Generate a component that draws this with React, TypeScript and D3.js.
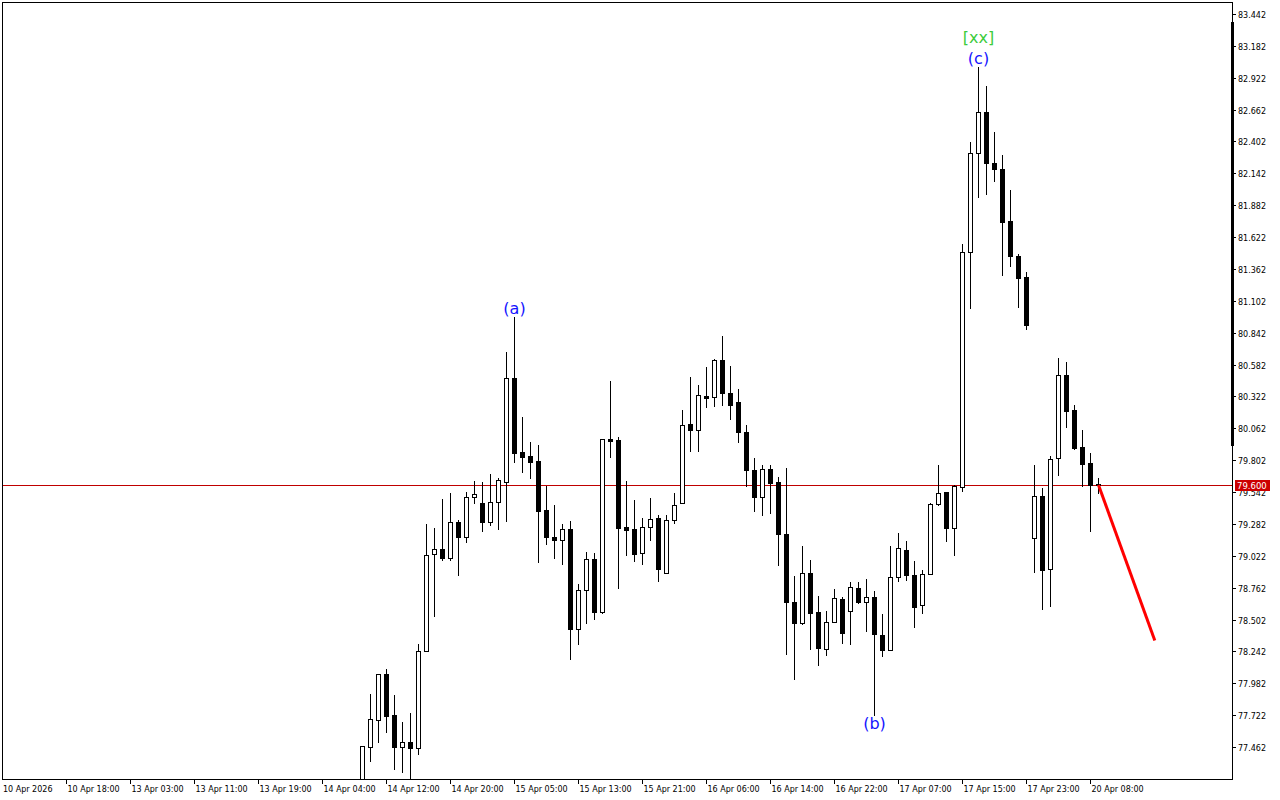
import React from "react";
import * as d3 from "d3";

// first visible bar index (bars are counted from the left edge of the chart)
const FIRST_BAR = 45;

const opens = [
  77.112, 77.460, 77.680, 78.056, 77.724, 77.460, 77.501, 77.452, 78.246, 79.034,
  79.077, 79.006, 79.295, 79.178, 79.499, 79.450, 79.295, 79.458, 79.627, 80.470,
  79.869, 79.836, 79.795, 79.393, 79.175, 79.148, 79.238, 78.423, 78.740, 78.993,
  78.567, 79.975, 79.964, 79.254, 79.238, 79.042, 79.254, 79.328, 78.879, 79.311,
  79.450, 80.095, 80.046, 80.324, 80.315, 80.617, 80.347, 80.277, 80.030, 79.719,
  79.499, 79.727, 79.622, 79.197, 78.643, 78.472, 78.879, 78.562, 78.260, 78.480,
  78.669, 78.570, 78.757, 78.643, 78.683, 78.374, 78.252, 78.846, 79.071, 78.864,
  78.617, 78.871, 79.445, 79.539, 79.245, 79.583, 81.502, 82.311, 82.645, 82.230,
  82.174, 81.753, 81.468, 81.299, 79.171, 79.506, 78.916, 79.816, 80.493, 80.208,
  79.910, 79.779, 79.607,
];
const highs = [
  77.471, 77.893, 78.056, 78.099, 77.887, 77.664, 77.740, 78.301, 79.279, 79.246,
  79.485, 79.534, 79.314, 79.542, 79.632, 79.622, 79.689, 79.660, 80.687, 80.968,
  80.157, 79.953, 79.926, 79.594, 79.436, 79.281, 79.306, 78.792, 79.053, 79.045,
  79.972, 80.448, 79.991, 79.632, 79.477, 79.330, 79.494, 79.352, 79.352, 79.534,
  80.211, 80.481, 80.416, 80.562, 80.628, 80.815, 80.568, 80.381, 80.089, 79.820,
  79.764, 79.762, 79.665, 79.742, 78.855, 79.099, 78.988, 78.694, 78.572, 78.751,
  78.683, 78.806, 78.806, 78.833, 78.732, 78.545, 79.099, 79.205, 79.146, 78.983,
  78.902, 79.453, 79.759, 79.539, 79.602, 81.565, 82.396, 83.012, 82.855, 82.477,
  82.290, 82.008, 81.481, 81.334, 79.761, 79.579, 79.832, 80.634, 80.599, 80.252,
  80.048, 79.861, 79.654,
];
const lows = [
  77.071, 77.348, 77.506, 77.587, 77.286, 77.256, 77.112, 77.403, 78.246, 78.534,
  78.990, 78.990, 78.868, 79.137, 79.455, 79.227, 79.276, 79.240, 79.308, 79.790,
  79.708, 79.654, 78.974, 79.121, 79.006, 78.957, 78.183, 78.306, 78.477, 78.509,
  78.559, 79.831, 78.762, 79.031, 78.982, 78.957, 79.153, 78.819, 78.879, 79.292,
  79.450, 79.880, 79.880, 80.238, 80.247, 80.255, 80.136, 79.950, 79.591, 79.390,
  79.352, 79.373, 78.944, 78.219, 78.015, 78.464, 78.260, 78.129, 78.211, 78.480,
  78.314, 78.301, 78.635, 78.411, 77.724, 78.203, 78.252, 78.819, 78.827, 78.442,
  78.557, 78.871, 79.439, 79.139, 79.027, 79.552, 81.040, 81.945, 81.977, 82.081,
  81.309, 81.390, 81.053, 80.871, 78.886, 78.591, 78.616, 79.684, 80.073, 79.893,
  79.591, 79.227, 79.534,
];
const closes = [
  77.471, 77.689, 78.056, 77.718, 77.460, 77.501, 77.452, 78.246, 79.026, 79.077,
  79.006, 79.295, 79.178, 79.499, 79.524, 79.295, 79.458, 79.638, 80.475, 79.862,
  79.831, 79.790, 79.391, 79.173, 79.153, 79.238, 78.423, 78.740, 78.993, 78.567,
  79.972, 79.961, 79.251, 79.235, 79.034, 79.254, 79.320, 78.912, 79.311, 79.434,
  80.087, 80.046, 80.332, 80.312, 80.617, 80.346, 80.255, 80.030, 79.719, 79.499,
  79.727, 79.618, 79.197, 78.643, 78.472, 78.879, 78.554, 78.268, 78.480, 78.677,
  78.390, 78.765, 78.643, 78.683, 78.382, 78.252, 78.846, 79.083, 78.864, 78.607,
  78.877, 79.445, 79.534, 79.245, 79.590, 81.502, 82.311, 82.645, 82.227, 82.174,
  81.746, 81.465, 81.290, 80.903, 79.506, 78.907, 79.809, 80.493, 80.206, 79.899,
  79.773, 79.598, 79.600,
];

const priceTickLabels = [
  "83.442", "83.182", "82.922", "82.662", "82.402", "82.142", "81.882", "81.622",
  "81.362", "81.102", "80.842", "80.582", "80.322", "80.062", "79.802", "79.542",
  "79.282", "79.022", "78.762", "78.502", "78.242", "77.982", "77.722", "77.462",
];

const timeLabels = [
  "10 Apr 2026", "10 Apr 18:00", "13 Apr 03:00", "13 Apr 11:00", "13 Apr 19:00",
  "14 Apr 04:00", "14 Apr 12:00", "14 Apr 20:00", "15 Apr 05:00", "15 Apr 13:00",
  "15 Apr 21:00", "16 Apr 06:00", "16 Apr 14:00", "16 Apr 22:00", "17 Apr 07:00",
  "17 Apr 15:00", "17 Apr 23:00", "20 Apr 08:00",
];
const TIME_LABEL_STEP = 8; // bars between time labels

const bidPrice = 79.6;
const bidLabel = "79.600";

const waveLabels = [
  { text: "(a)", bar: 64, anchor: "high", offset: -3, color: "#1414ff" },
  { text: "(b)", bar: 109, anchor: "low", offset: 14, color: "#1414ff" },
  { text: "(c)", bar: 122, anchor: "high", offset: -3, color: "#1414ff" },
  { text: "[xx]", bar: 122, anchor: "high", offset: -24, color: "#3ccc3c" },
];

const arrowFrom = { bar: 137, price: 79.6 };
const arrowTo = { bar: 144.1, price: 78.33 };

const W = 1280;
const H = 800;
const LEFT = 2;
const RIGHT = 1232;
const TOP = 2;
const BOTTOM = 779;
const BAR_STEP = 8;

export default function App() {
  const x = d3
    .scaleLinear()
    .domain([0, (RIGHT - LEFT) / BAR_STEP])
    .range([LEFT, RIGHT]);
  const y = d3.scaleLinear().domain([77.462, 83.442]).range([747, 14]);

  const candles = opens.map((o, i) => ({
    bar: FIRST_BAR + i,
    o,
    h: highs[i],
    l: lows[i],
    c: closes[i],
  }));

  const axisFont = "DejaVu Sans, Verdana, sans-serif";
  const bidY = Math.round(y(bidPrice)) + 0.5;

  return (
    <svg
      width={W}
      height={H}
      style={{ position: "absolute", left: 0, top: 0, background: "#fff" }}
      shapeRendering="crispEdges"
    >
      <defs>
        <clipPath id="plot">
          <rect x={LEFT} y={TOP} width={RIGHT - LEFT} height={BOTTOM - TOP} />
        </clipPath>
      </defs>
      <rect x={0} y={0} width={W} height={H} fill="#fff" />

      <g clipPath="url(#plot)">
        {/* bid line */}
        <line x1={LEFT} x2={RIGHT} y1={bidY} y2={bidY} stroke="#c00000" strokeWidth={1} />
        {candles.map((d) => {
          const px = Math.round(x(d.bar));
          const yH = Math.round(y(d.h));
          const yL = Math.round(y(d.l));
          const yT = Math.round(y(Math.max(d.o, d.c)));
          const yB = Math.round(y(Math.min(d.o, d.c)));
          const bull = d.c > d.o;
          return (
            <g key={d.bar}>
              <line x1={px + 0.5} x2={px + 0.5} y1={yH} y2={yL + 1} stroke="#000" strokeWidth={1} />
              {bull ? (
                <rect
                  x={px - 1.5}
                  y={yT + 0.5}
                  width={4}
                  height={Math.max(1, yB - yT)}
                  fill="#fff"
                  stroke="#000"
                  strokeWidth={1}
                />
              ) : (
                <rect x={px - 2} y={yT} width={5} height={Math.max(2, yB - yT + 1)} fill="#000" />
              )}
            </g>
          );
        })}
        {/* projection arrow */}
        <line
          x1={x(arrowFrom.bar) + 0.5}
          y1={y(arrowFrom.price)}
          x2={x(arrowTo.bar)}
          y2={y(arrowTo.price)}
          stroke="#ff0000"
          strokeWidth={3}
          shapeRendering="auto"
        />
      </g>

      {/* wave labels */}
      {waveLabels.map((w) => {
        const c = candles[w.bar - FIRST_BAR];
        const base = w.anchor === "high" ? y(c.h) : y(c.l);
        return (
          <text
            key={w.text + w.bar}
            x={x(w.bar) + 0.5}
            y={base + w.offset}
            textAnchor="middle"
            fontFamily={axisFont}
            fontSize={16}
            fill={w.color}
            shapeRendering="auto"
          >
            {w.text}
          </text>
        );
      })}

      {/* frame */}
      <rect
        x={LEFT + 0.5}
        y={TOP + 0.5}
        width={RIGHT - LEFT}
        height={BOTTOM - TOP}
        fill="none"
        stroke="#000"
        strokeWidth={1}
      />
      <rect x={RIGHT - 1} y={22} width={3} height={424} fill="#000" />

      {/* price axis */}
      {priceTickLabels.map((t) => {
        const ty = Math.round(y(+t)) + 0.5;
        return (
          <g key={t}>
            <line x1={RIGHT} x2={RIGHT + 4} y1={ty} y2={ty} stroke="#000" />
            <text x={RIGHT + 6} y={ty + 3} fontFamily={axisFont} fontSize={8} fill="#000">
              {t}
            </text>
          </g>
        );
      })}

      {/* bid label */}
      <rect x={RIGHT + 3} y={bidY - 6} width={35} height={11} fill="#cc0000" />
      <text x={RIGHT + 5} y={bidY + 3.5} fontFamily={axisFont} fontSize={8.5} fill="#fff">
        {bidLabel}
      </text>

      {/* time axis */}
      {timeLabels.map((t, i) => {
        const bar = i * TIME_LABEL_STEP;
        const tx = Math.round(x(bar)) + 0.5;
        return (
          <g key={t}>
            {i > 0 && <line x1={tx} x2={tx} y1={BOTTOM} y2={BOTTOM + 5} stroke="#000" />}
            <text x={i === 0 ? 3 : tx + 1} y={792} fontFamily={axisFont} fontSize={8} fill="#000">
              {t}
            </text>
          </g>
        );
      })}
    </svg>
  );
}
